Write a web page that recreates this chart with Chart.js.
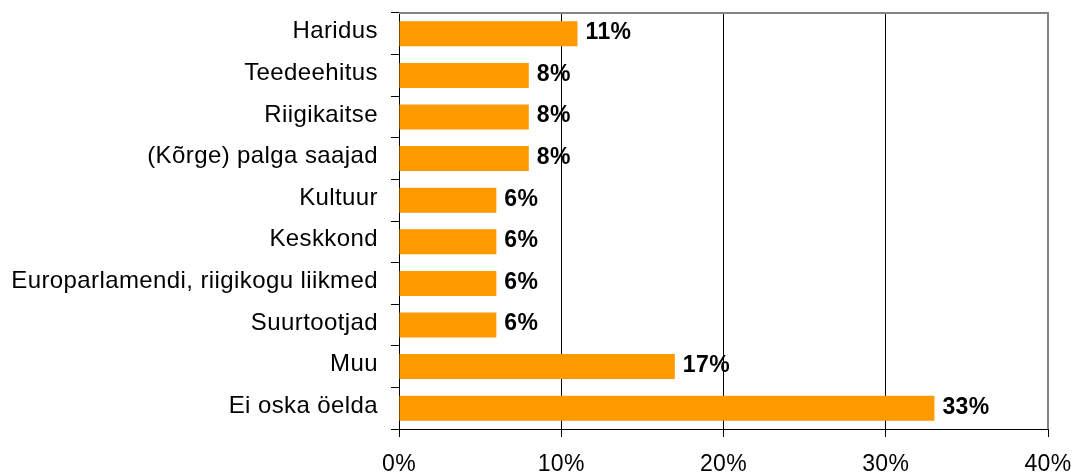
<!DOCTYPE html>
<html>
<head>
<meta charset="utf-8">
<script src="https://cdn.jsdelivr.net/npm/chart.js@4.4.1/dist/chart.umd.min.js"></script>
<style>
  html, body { margin: 0; padding: 0; background: #fff; }
  canvas { display: block; }
</style>
</head>
<body>
<canvas id="chart" width="1079" height="474"></canvas>
<script>
const categories = [
    'Haridus',
    'Teedeehitus',
    'Riigikaitse',
    '(Kõrge) palga saajad',
    'Kultuur',
    'Keskkond',
    'Europarlamendi, riigikogu liikmed',
    'Suurtootjad',
    'Muu',
    'Ei oska öelda'
]
const shares = [11, 8, 8, 8, 6, 6, 6, 6, 17, 33]
const xTicks = [0, 10, 20, 30, 40]

const FONT = '"Liberation Sans", Arial, Helvetica, sans-serif'

// slightly open lettering for every text on the canvas
const spacing = {
    id: 'spacing',
    beforeDraw(chart){
        chart.ctx.letterSpacing = '0.4px'
    }
}

// bold "NN%" next to every bar end
const valueLabels = {
    id: 'valueLabels',
    afterDatasetsDraw(chart){
        const ctx = chart.ctx
        const meta = chart.getDatasetMeta(0)
        ctx.save()
        ctx.font = 'bold 23px ' + FONT
        ctx.fillStyle = '#000'
        ctx.textAlign = 'left'
        ctx.textBaseline = 'middle'
        meta.data.forEach((bar, i) => {
            ctx.fillText(shares[i] + '%', bar.x + 8, bar.y - 1)
        })
        ctx.restore()
    }
}

// grey frame on the top and right side of the plot area
const plotFrame = {
    id: 'plotFrame',
    afterDraw(chart){
        const { ctx, chartArea: a } = chart
        ctx.save()
        ctx.strokeStyle = '#858585'
        ctx.lineWidth = 2
        ctx.beginPath()
        ctx.moveTo(a.left, a.top)
        ctx.lineTo(a.right, a.top)
        ctx.lineTo(a.right, a.bottom)
        ctx.stroke()
        ctx.restore()
    }
}

new Chart(
    document.getElementById('chart'),
    {
        type: 'bar',
        data: {
            labels: categories,
            datasets: [{
                data: shares,
                backgroundColor: '#FF9900',
                borderWidth: 0,
                categoryPercentage: 1,
                barPercentage: 0.6
            }]
        },
        options: {
            indexAxis: 'y',
            responsive: false,
            animation: false,
            layout: { padding: { top: 13, right: 31, left: 0, bottom: 0 } },
            plugins: {
                legend: { display: false },
                tooltip: { enabled: false }
            },
            scales: {
                x: {
                    min: 0,
                    max: 40,
                    afterBuildTicks: scale => { scale.ticks = xTicks.map(v => ({ value: v })) },
                    afterFit: scale => {
                        scale.height = 45
                        scale.paddingLeft = 0
                        scale.paddingRight = 0
                    },
                    border: { color: '#000', width: 1 },
                    grid: { color: '#000', lineWidth: 1, tickLength: 8 },
                    ticks: {
                        color: '#000',
                        padding: 14,
                        maxRotation: 0,
                        font: { family: FONT, size: 23 },
                        callback: v => v + '%'
                    }
                },
                y: {
                    afterFit: scale => {
                        scale.width = 399
                        scale.paddingTop = 0
                        scale.paddingBottom = 0
                    },
                    border: { color: '#000', width: 1 },
                    grid: { offset: true, drawOnChartArea: false, color: '#000', tickLength: 8 },
                    ticks: {
                        color: '#000',
                        padding: 13,
                        labelOffset: -2,
                        autoSkip: false,
                        font: { family: FONT, size: 24 }
                    }
                }
            }
        },
        plugins: [spacing, valueLabels, plotFrame]
    }
)
</script>
</body>
</html>
